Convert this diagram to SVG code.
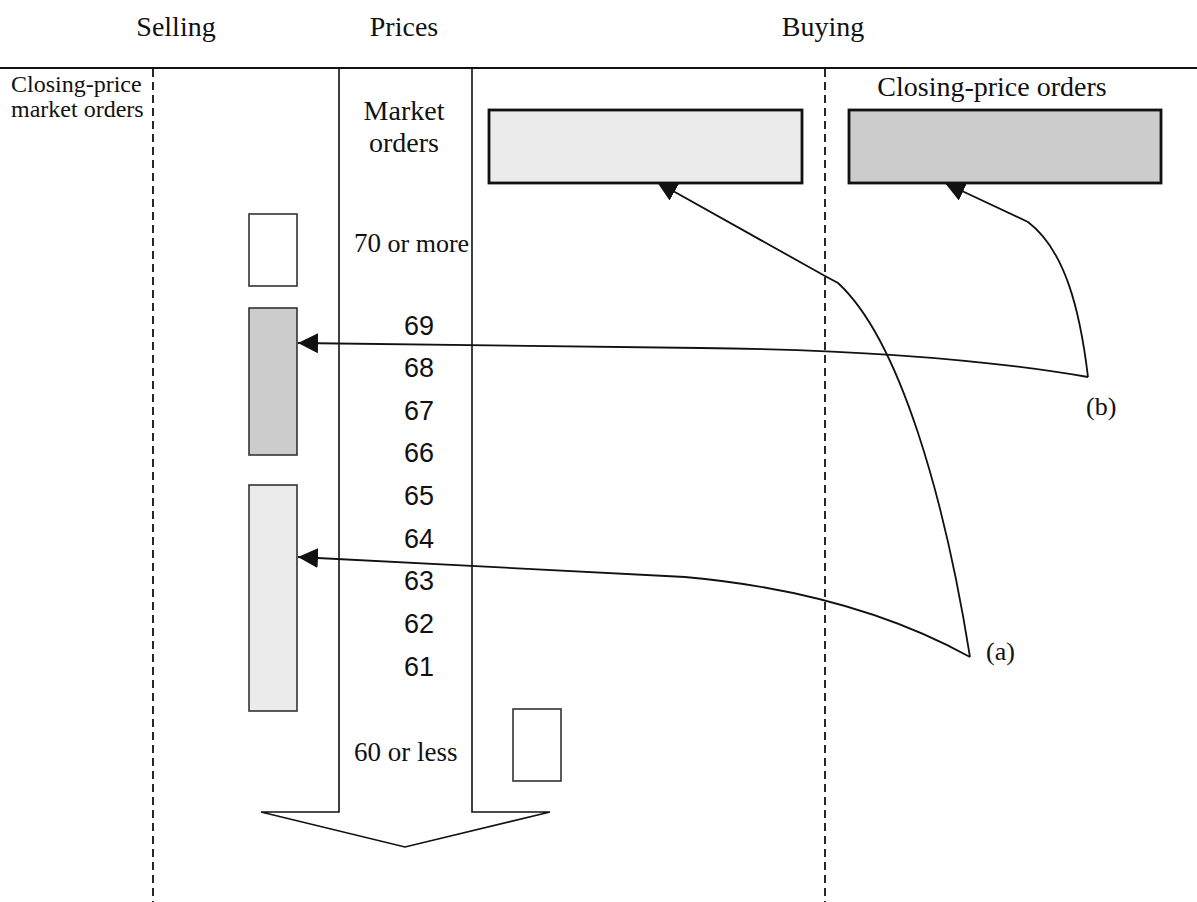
<svg xmlns="http://www.w3.org/2000/svg" width="1197" height="902" viewBox="0 0 1197 902">
<style>
.serif{font-family:"Liberation Serif","Times New Roman",serif;fill:#111}
.sans{font-family:"Liberation Sans",Arial,sans-serif;fill:#111}
.dash{stroke:#111;stroke-width:1.8;stroke-dasharray:8 5;fill:none}
.conn{stroke:#111;stroke-width:1.8;fill:none}
.big{stroke:#111;stroke-width:2.8}
.small{stroke:#333;stroke-width:1.6}
</style>
<defs>
<marker id="ah" markerUnits="userSpaceOnUse" markerWidth="20" markerHeight="20" viewBox="0 0 20 20" refX="20" refY="10" orient="auto">
<path d="M0,0 L20,10 L0,20 z" fill="#111"/>
</marker>
</defs>
<rect width="1197" height="902" fill="#fff"/>
<g id="frame">
<line x1="0" y1="68" x2="1197" y2="68" stroke="#111" stroke-width="2"/>
<line class="dash" x1="153" y1="69" x2="153" y2="902"/>
<line class="dash" x1="825" y1="69" x2="825" y2="902"/>
<polyline points="339,68 339,812 261,812 405,847 550,812 472,812 472,68" fill="none" stroke="#111" stroke-width="1.6"/>
<text class="serif" x="176" y="36" font-size="28" text-anchor="middle">Selling</text>
<text class="serif" x="404" y="36" font-size="28" text-anchor="middle">Prices</text>
<text class="serif" x="823" y="36" font-size="28" text-anchor="middle">Buying</text>
<text class="serif" x="11" y="92" font-size="24">Closing-price</text>
<text class="serif" x="11" y="117" font-size="24">market orders</text>
<text class="serif" x="404" y="120" font-size="28" text-anchor="middle">Market</text>
<text class="serif" x="404" y="152" font-size="28" text-anchor="middle">orders</text>
<text class="serif" x="992" y="96" font-size="28" text-anchor="middle">Closing-price orders</text>
<text class="serif" x="354" y="252" font-size="27">70<tspan font-size="26"> or more</tspan></text>
<g class="sans" font-size="27" text-anchor="middle">
<text x="419" y="335">69</text>
<text x="419" y="377">68</text>
<text x="419" y="420">67</text>
<text x="419" y="462">66</text>
<text x="419" y="505">65</text>
<text x="419" y="548">64</text>
<text x="419" y="590">63</text>
<text x="419" y="633">62</text>
<text x="419" y="676">61</text>
</g>
<text class="serif" x="354" y="761" font-size="27">60 or less</text>
<text class="serif" x="986" y="660" font-size="26">(a)</text>
<text class="serif" x="1086" y="415" font-size="26">(b)</text>
</g>
<g id="connectors">
<path class="conn" d="M970,657 Q852,592 685,577 L298,557" marker-end="url(#ah)"/>
<path class="conn" d="M970,657 C945,500 900,340 838,283 L825,276 L657,182" marker-end="url(#ah)"/>
<path class="conn" d="M1088,377 Q930,350 700,348 L298,343" marker-end="url(#ah)"/>
<path class="conn" d="M1088,377 C1080,310 1065,250 1028,222 L945,183" marker-end="url(#ah)"/>
</g>
<g id="market-buy-box"><rect class="big" x="489" y="110" width="313" height="73" fill="#ebebeb"/></g>
<g id="closing-buy-box"><rect class="big" x="849" y="110" width="312" height="73" fill="#cccccc"/></g>
<g id="sell-70-box"><rect class="small" x="249" y="214" width="48" height="72" fill="#fff"/></g>
<g id="sell-closing-box"><rect class="small" x="249" y="308" width="48" height="147" fill="#cccccc"/></g>
<g id="sell-market-box"><rect class="small" x="249" y="485" width="48" height="226" fill="#ebebeb"/></g>
<g id="buy-60-box"><rect class="small" x="513" y="709" width="48" height="72" fill="#fff"/></g>
</svg>
